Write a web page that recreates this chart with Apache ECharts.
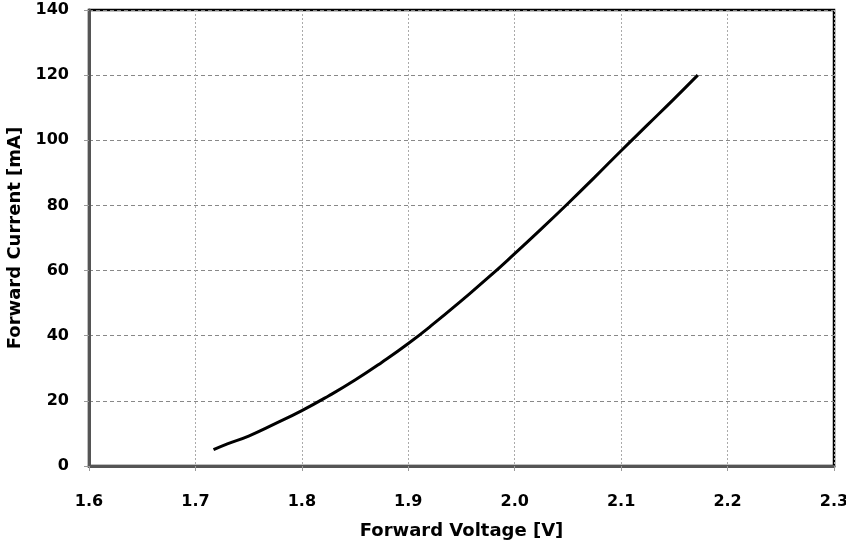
<!DOCTYPE html>
<html><head><meta charset="utf-8">
<script src="https://cdn.jsdelivr.net/npm/echarts@6/dist/echarts.min.js"></script>
<style>html,body{margin:0;padding:0;background:#fff}#c{width:846px;height:543px}</style>
</head><body><div id="c"></div>
<script>
const voltage = [1.717,1.73,1.75,1.775,1.8,1.825,1.85,1.875,1.9,1.925,1.95,1.975,2.0,2.025,2.05,2.075,2.1,2.125,2.15,2.172];
const current = [5,6.8,9.2,13,17,21.5,26.4,31.8,37.6,44,50.8,57.8,65.2,72.8,80.6,88.6,96.8,104.8,112.8,120];
const xTitle = 'Forward Voltage [V]';
const yTitle = 'Forward Current [mA]';
const font = 'DejaVu Sans, Verdana, sans-serif';
const chart = echarts.init(document.getElementById('c'));
chart.setOption({
  animation:false,
  grid:{left:89,right:12,top:10,bottom:77,outerBoundsMode:'none',containLabel:false,show:true,borderColor:'#000',borderWidth:2.5,backgroundColor:'#fff'},
  xAxis:{type:'value',min:1.6,max:2.3,interval:0.1,
    name:xTitle,nameLocation:'middle',nameGap:56,
    nameTextStyle:{fontFamily:font,fontWeight:'bold',fontSize:18,color:'#000'},
    axisLine:{show:true,lineStyle:{color:'#555',width:3}},
    axisTick:{show:true,length:5,lineStyle:{color:'#999'}},
    axisLabel:{margin:28,fontFamily:font,fontWeight:'bold',fontSize:16,color:'#000',formatter:v=>v.toFixed(1)},
    splitLine:{show:true,lineStyle:{color:'#aaa',type:[2,2],width:1}}},
  yAxis:{type:'value',min:0,max:140,interval:20,
    name:yTitle,nameLocation:'middle',nameGap:63,
    nameTextStyle:{fontFamily:font,fontWeight:'bold',fontSize:18,color:'#000'},
    axisLine:{show:true,lineStyle:{color:'#555',width:3}},
    axisTick:{show:true,length:5,lineStyle:{color:'#999'}},
    axisLabel:{margin:20,fontFamily:font,fontWeight:'bold',fontSize:16,color:'#000'},
    splitLine:{show:true,lineStyle:{color:'#888',type:[4,3],width:1}}},
  series:[{type:'line',data:voltage.map((v,i)=>[v,current[i]]),smooth:true,showSymbol:false,
    lineStyle:{color:'#000',width:3}}]
});
</script></body></html>
